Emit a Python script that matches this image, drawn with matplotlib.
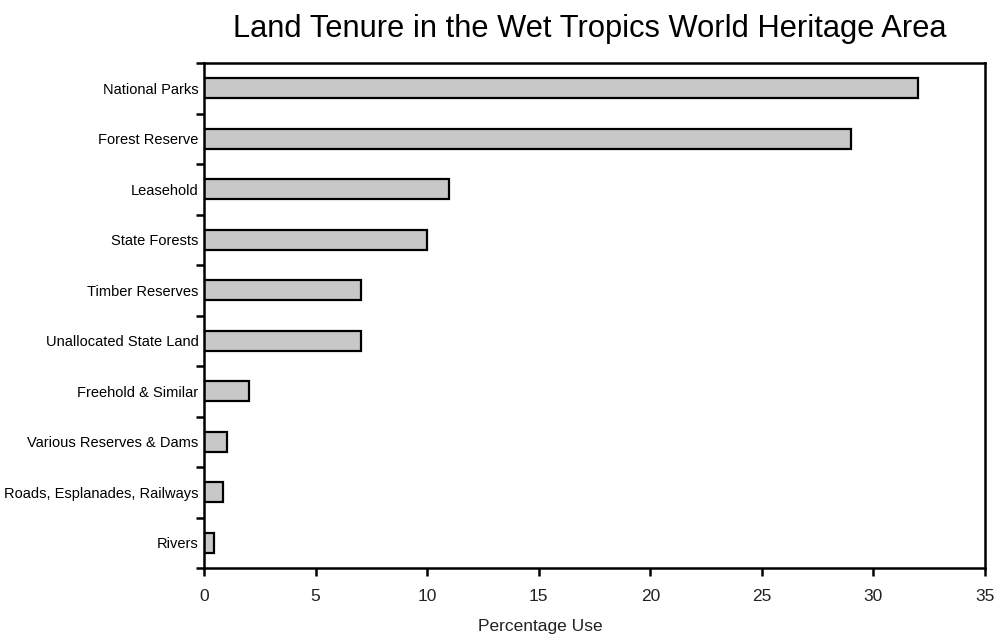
import numpy as np
import matplotlib
matplotlib.use('Agg')
import matplotlib.pyplot as plt

categories = ["National Parks", "Forest Reserve", "Leasehold", "State Forests",
              "Timber Reserves", "Unallocated State Land", "Freehold & Similar",
              "Various Reserves & Dams", "Roads, Esplanades, Railways", "Rivers"]
values = [32, 29, 11, 10, 7.05, 7.05, 2, 1.05, 0.85, 0.45]
xticks = [0, 5, 10, 15, 20, 25, 30, 35]

fig = plt.figure(figsize=(9.98, 6.37), dpi=100)
ax = fig.add_axes([0.2044, 0.1083, 0.7826, 0.7927])

y = np.arange(len(categories))
ax.barh(y, values, height=0.4, color='#c8c8c8', edgecolor='black', linewidth=1.6)

ax.set_ylim(len(categories) - 0.5, -0.5)
ax.set_xlim(0, 35)
ax.set_xticks(xticks)
ax.set_yticks(y)
ax.set_yticklabels(categories, family='Liberation Sans', fontsize=10.5)
ax.set_yticks(np.arange(len(categories) + 1) - 0.5, minor=True)
ax.tick_params(axis='y', which='major', length=0, pad=4)
ax.tick_params(axis='y', which='minor', length=6, width=1.8, direction='out')
ax.tick_params(axis='x', length=6, width=1.8, direction='out', labelsize=12.5, pad=9)
for lab in ax.get_xticklabels():
    lab.set_family('Liberation Sans')
    lab.set_color('#222222')

for s in ax.spines.values():
    s.set_linewidth(1.8)

fig.text(0.541, 1 - 626 / 637, 'Percentage Use', family='Liberation Sans', fontsize=12.5,
         ha='center', va='center', color='#222222')
fig.text(0.591, 1 - 29 / 637, 'Land Tenure in the Wet Tropics World Heritage Area',
         family='Liberation Sans', fontsize=22.2, ha='center', va='center')

plt.savefig('out.png', dpi=100)
